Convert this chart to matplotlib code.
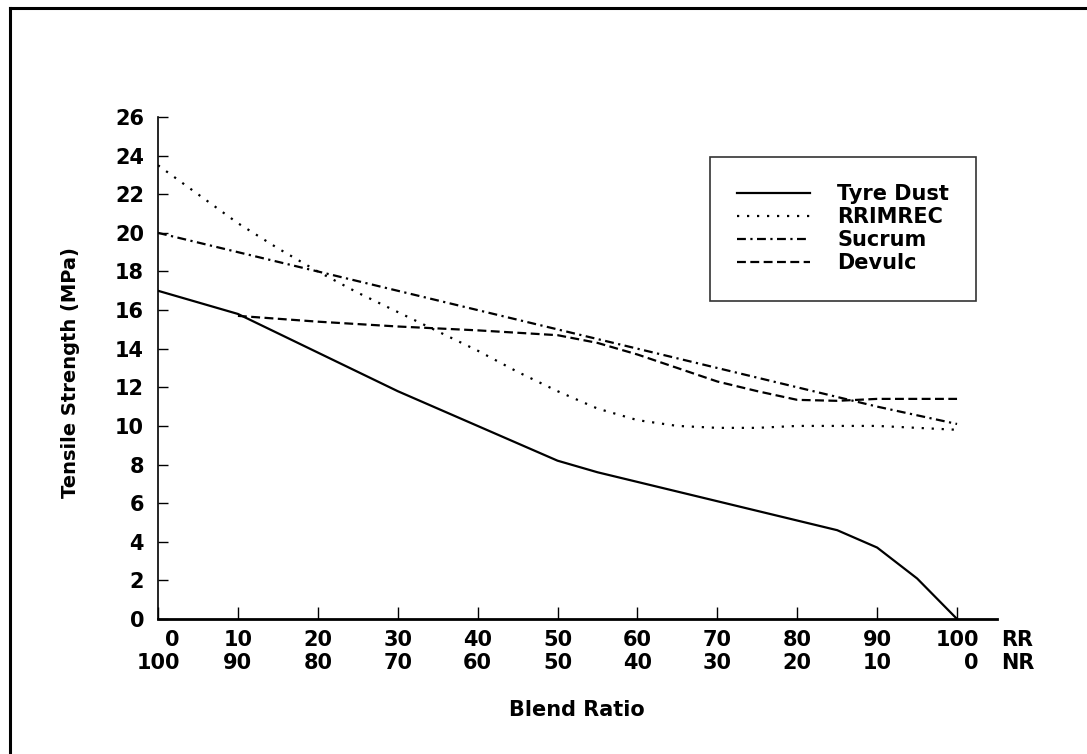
import matplotlib
matplotlib.use("Agg")
import matplotlib.pyplot as plt
from matplotlib.lines import Line2D

# ── Data ──────────────────────────────────────────────────────────────────────
blend_x = [0, 5, 10, 15, 20, 25, 30, 35, 40, 45, 50,
           55, 60, 65, 70, 75, 80, 85, 90, 95, 100]

tyre_dust = [17.0, 16.4, 15.8, 14.8, 13.8, 12.8, 11.8, 10.9, 10.0, 9.1, 8.2,
             7.6, 7.1, 6.6, 6.1, 5.6, 5.1, 4.6, 3.7, 2.1, 0.0]
rrimrec = [23.5, 22.0, 20.5, 19.2, 18.0, 16.9, 15.9, 14.9, 13.9, 12.8, 11.8,
           10.9, 10.3, 10.0, 9.9, 9.9, 10.0, 10.0, 10.0, 9.9, 9.8]
sucrum_x = [0, 10, 20, 30, 40, 50, 60, 70, 80, 90, 100]
sucrum = [20.0, 19.0, 18.0, 17.0, 16.0, 15.0, 14.0, 13.0, 12.0, 11.0, 10.1]
devulc_x = [10, 20, 30, 40, 50, 55, 60, 65, 70, 75, 80, 85, 90, 95, 100]
devulc = [15.7, 15.4, 15.15, 14.95, 14.7, 14.3, 13.7, 13.0, 12.3, 11.8,
          11.35, 11.3, 11.4, 11.4, 11.4]

rr_ticks = [0, 10, 20, 30, 40, 50, 60, 70, 80, 90, 100]
nr_ticks = [100, 90, 80, 70, 60, 50, 40, 30, 20, 10, 0]
y_ticks = list(range(0, 27, 2))

W, H = 1087, 754
fig = plt.figure(figsize=(W / 100, H / 100), dpi=100)
ax = fig.add_axes([158 / W, 1 - 619 / H, (997 - 158) / W, (619 - 117) / H])

ax.plot(blend_x, tyre_dust, color="black", lw=1.6, ls="-", label="Tyre Dust")
ax.plot(blend_x, rrimrec, color="black", lw=1.6, ls=(0, (1, 3.5)), label="RRIMREC")
ax.plot(sucrum_x, sucrum, color="black", lw=1.6, ls=(0, (4, 2, 1, 2)), label="Sucrum")
ax.plot(devulc_x, devulc, color="black", lw=1.6, ls=(0, (4, 2)), label="Devulc")

ax.set_xlim(0, 105)
ax.set_ylim(0, 26)
for side in ("top", "right"):
    ax.spines[side].set_visible(False)
ax.spines["left"].set_linewidth(1.2)
ax.spines["bottom"].set_linewidth(2.0)

bold = dict(fontweight="bold", color="black")
XPAD = 8

ax.set_yticks(y_ticks)
ax.set_yticklabels([str(v) for v in y_ticks], fontsize=15, **bold)
ax.set_xticks(rr_ticks)
ax.set_xticklabels([f"{a}\n{b}" for a, b in zip(rr_ticks, nr_ticks)],
                   fontsize=15, multialignment="right", linespacing=1.15, **bold)
ax.tick_params(axis="y", direction="in", length=7, width=1, pad=10)
ax.tick_params(axis="x", direction="in", length=9, width=1, pad=XPAD)

# row captions at the end of the x axis, level with the tick label rows
ax.annotate("RR\nNR", xy=(105, 0), xycoords=("data", "axes fraction"),
            xytext=(3, -XPAD), textcoords="offset points",
            ha="left", va="top", fontsize=15, linespacing=1.15,
            annotation_clip=False, **bold)

fig.text(577 / W, 1 - 710 / H, "Blend Ratio", ha="center", va="center",
         fontsize=15, **bold)
fig.text(70 / W, 1 - 373 / H, "Tensile Strength (MPa)", ha="center",
         va="center", rotation=90, fontsize=14, **bold)

leg = ax.legend(loc="upper left", bbox_to_anchor=(710 / W, 1 - 157 / H),
                bbox_transform=fig.transFigure, borderaxespad=0,
                frameon=True, fancybox=False,
                edgecolor="black", borderpad=1.3, handlelength=3.5,
                handletextpad=1.3, labelspacing=0.15,
                prop={"size": 15, "weight": "bold"})
leg.get_frame().set_linewidth(1.2)

# page frame: only top and left edges show in the reference
fig.add_artist(Line2D([10 / W, 10 / W], [0, 1 - 8 / H], color="black",
                      lw=2.2, transform=fig.transFigure))
fig.add_artist(Line2D([10 / W, 1], [1 - 8 / H, 1 - 8 / H], color="black",
                      lw=2.2, transform=fig.transFigure))

fig.savefig("out.png", dpi=100, facecolor="white")
